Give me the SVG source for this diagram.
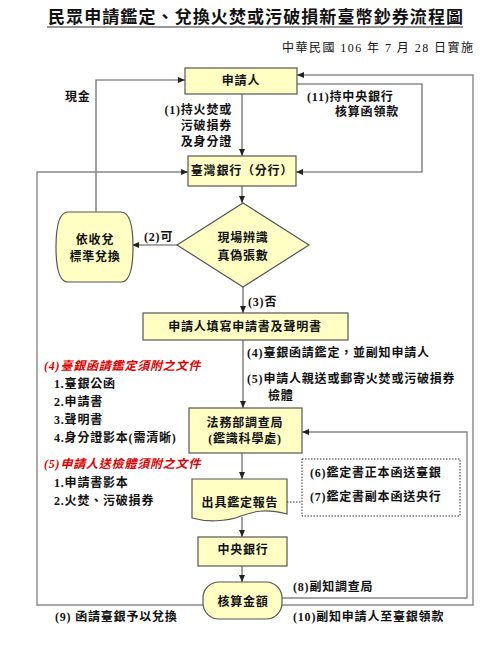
<svg xmlns="http://www.w3.org/2000/svg" width="500" height="652" viewBox="0 0 500 652">
<style>
text{font-family:"Liberation Serif","Noto Sans CJK TC",serif;font-size:12px;font-weight:bold;fill:#111;letter-spacing:0.8px}
.c{text-anchor:middle}
.r{text-anchor:end}
.red{fill:#E00000;font-style:italic}
.node{fill:#FFFFC4;stroke:#555;stroke-width:1.2}
.ln{fill:none;stroke:#555;stroke-width:1.1}
.lo{fill:none;stroke:#888;stroke-width:1.4}
.dot{fill:none;stroke:#333;stroke-width:1;stroke-dasharray:1.5,1.5}
</style>
<defs>
<marker id="a" markerUnits="userSpaceOnUse" markerWidth="7" markerHeight="6" refX="7" refY="3" orient="auto">
<path d="M0,0 L7,3 L0,6 z" fill="#222"/>
</marker>
</defs>
<rect width="500" height="652" fill="#fff"/>
<text x="48" y="23" style="font-size:17px;letter-spacing:0" textLength="415" lengthAdjust="spacing">民眾申請鑑定、兌換火焚或污破損新臺幣鈔券流程圖</text>
<line x1="47" y1="27" x2="463" y2="27" stroke="#333" stroke-width="1.2"/>
<text x="282" y="52" style="font-weight:normal;letter-spacing:0" textLength="191" lengthAdjust="spacing">中華民國 106 年 7 月 28 日實施</text>
<g id="connectors">
<line class="ln" x1="242" y1="94" x2="242" y2="156" marker-end="url(#a)"/>
<line class="ln" x1="242" y1="186" x2="242" y2="203" marker-end="url(#a)"/>
<line class="ln" x1="243" y1="287" x2="243" y2="313" marker-end="url(#a)"/>
<line class="ln" x1="243" y1="340" x2="243" y2="408" marker-end="url(#a)"/>
<line class="ln" x1="242" y1="453" x2="242" y2="479" marker-end="url(#a)"/>
<line class="ln" x1="242" y1="517" x2="242" y2="537" marker-end="url(#a)"/>
<line class="ln" x1="242" y1="566" x2="242" y2="582" marker-end="url(#a)"/>
<line class="ln" x1="177" y1="245" x2="132" y2="245" marker-end="url(#a)"/>
<polyline class="ln" points="96,212 96,80 185,80" marker-end="url(#a)"/>
<polyline class="ln" points="297,84 422,84 422,172 296,172" marker-end="url(#a)"/>
<polyline class="lo" points="203,605 37,605 37,172 188,172" marker-end="url(#a)"/>
<polyline class="lo" points="282,605 473,605 473,75 297,75" marker-end="url(#a)"/>
<polyline class="lo" points="282,598 467,598 467,432 302,432" marker-end="url(#a)"/>
<line class="dot" x1="287" y1="502" x2="302" y2="502"/>
</g>
<g id="n1"><rect class="node" x="185" y="68" width="112" height="26"/><text class="c" x="241" y="85">申請人</text></g>
<g id="n2"><rect class="node" x="188" y="156" width="108" height="30"/><text class="c" x="242" y="175">臺灣銀行（分行）</text></g>
<g id="n3"><polygon class="node" points="243,203 309,245 243,287 177,245"/><text class="c" x="243" y="242">現場辨識</text><text class="c" x="243" y="260">真偽張數</text></g>
<g id="n4"><path class="node" d="M68 212 H121 Q133 212 133 247 Q133 282 121 282 H68 Q56 282 56 247 Q56 212 68 212 Z"/><text class="c" x="95" y="244">依收兌</text><text class="c" x="95" y="261">標準兌換</text></g>
<g id="n5"><rect class="node" x="143" y="313" width="205" height="27"/><text class="c" x="245" y="331">申請人填寫申請書及聲明書</text></g>
<g id="n6"><rect class="node" x="189" y="408" width="113" height="45"/><text class="c" x="245" y="427">法務部調查局</text><text class="c" x="245" y="443">(鑑識科學處)</text></g>
<g id="n7"><path class="node" d="M192 479 H287 V514 C264 508 252 512 241 516 C226 522 206 522 192 518 Z"/><text class="c" x="240" y="507">出具鑑定報告</text></g>
<g id="n8"><rect class="node" x="198" y="537" width="89" height="29"/><text class="c" x="243" y="554">中央銀行</text></g>
<g id="n9"><rect class="node" x="203" y="582" width="79" height="37" rx="16"/><text class="c" x="243" y="606">核算金額</text></g>
<g id="n10"><rect class="dot" x="302" y="459" width="158" height="57"/><text x="310" y="477">(6)鑑定書正本函送臺銀</text><text x="310" y="501">(7)鑑定書副本函送央行</text></g>
<g id="labels">
<text x="65" y="101">現金</text>
<text class="r" x="232" y="114">(1)持火焚或</text>
<text class="r" x="232" y="130">污破損券</text>
<text class="r" x="232" y="146">及身分證</text>
<text x="307" y="101">(11)持中央銀行</text>
<text x="335" y="116">核算函領款</text>
<text x="144" y="241">(2)可</text>
<text x="248" y="306">(3)否</text>
<text x="247" y="357">(4)臺銀函請鑑定，並副知申請人</text>
<text x="247" y="383">(5)申請人親送或郵寄火焚或污破損券</text>
<text x="268" y="400">檢體</text>
<text class="red" x="44" y="370">(4)臺銀函請鑑定須附之文件</text>
<text x="54" y="388">1.臺銀公函</text>
<text x="54" y="406">2.申請書</text>
<text x="54" y="424">3.聲明書</text>
<text x="54" y="442">4.身分證影本(需清晰)</text>
<text class="red" x="44" y="468">(5)申請人送檢體須附之文件</text>
<text x="54" y="487">1.申請書影本</text>
<text x="54" y="505">2.火焚、污破損券</text>
<text x="293" y="591">(8)副知調查局</text>
<text x="55" y="621">(9) 函請臺銀予以兌換</text>
<text x="293" y="621">(10)副知申請人至臺銀領款</text>
</g>
</svg>
